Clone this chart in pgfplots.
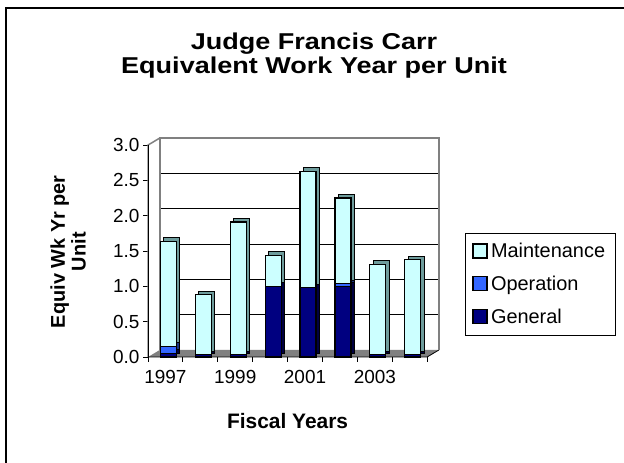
\documentclass[border=0pt]{standalone}
\usepackage{pgfplots}
\pgfplotsset{compat=1.18}
\usepackage{pgfplotstable}
\usepackage{fontspec}
\setmainfont{Liberation Sans}
\newfontfamily\titlefont[FakeStretch=1.18]{Liberation Sans}
\definecolor{maint}{HTML}{CCFFFF}
\definecolor{oper}{HTML}{3366FF}
\definecolor{gen}{HTML}{000080}
\definecolor{maintS}{HTML}{6E9C9C}
\definecolor{operS}{HTML}{1A3380}
\definecolor{genS}{HTML}{000040}

\pgfplotstableread{
x gen oper maint
0 0.05 0.10 1.49
1 0.03 0.00 0.85
2 0.03 0.00 1.88
3 1.00 0.00 0.44
4 0.98 0.00 1.65
5 1.00 0.04 1.21
6 0.03 0.00 1.28
7 0.03 0.00 1.35
}\data

\pgfplotsset{
 base/.style={scale only axis, width=291bp, height=219bp, xmin=-0.5, xmax=7.84,
   ymin=0, ymax=3.1, anchor=south west, clip=false},
 hidden/.style={axis lines=none, xtick=\empty, ytick=\empty},
 barsty/.style={ybar stacked, bar width=16bp, bar shift=3bp},
}

\begin{document}
\begin{tikzpicture}
\useasboundingbox (0,0) rectangle (624bp,463bp);
\draw[black, line width=1.5bp] (6bp,0) -- (6bp,455bp) -- (624bp,455bp);
\node[font=\titlefont\bfseries\fontsize{23}{24}\selectfont, align=center] at (314bp,407bp)
  {Judge Francis Carr\\Equivalent Work Year per Unit};

% Axis A: frame, floor, walls, ticks, labels
\begin{axis}[base, at={(148bp,106bp)},
  axis line style={draw=none},
  tick align=outside, major tick length=5bp,
  tick style={black, line width=0.8bp},
  xtick pos=lower, ytick pos=left,
  ytick={0,0.5,...,3},
  yticklabel style={font=\fontsize{19}{19}\selectfont,
    /pgf/number format/.cd, fixed, fixed zerofill, precision=1, assume math mode=true},
  xtick={-0.5,0.5,...,7.5}, xticklabels={,,,,,,,,,},
  extra x ticks={0,2,4,6}, extra x tick labels={1997,1999,2001,2003},
  extra x tick style={major tick length=0pt,
    xticklabel style={font=\fontsize{19}{19}\selectfont, yshift=-10bp}},
  ylabel={Equiv Wk Yr per\\Unit},
  ylabel style={align=center, font=\bfseries\fontsize{20}{21}\selectfont,
    at={(rel axis cs:-0.2745,0.481)}, anchor=center},
  xlabel={Fiscal Years},
  xlabel style={font=\bfseries\fontsize{21}{21}\selectfont,
    at={(rel axis cs:0.4796,0)}, anchor=base, yshift=-71bp},
]
\fill[gray] (axis cs:-0.5,0) -- (axis cs:7.5,0) -- (axis cs:7.84,0.1) -- (axis cs:-0.16,0.1) -- cycle;
\draw[black, line width=0.8bp] (axis cs:-0.5,0) -- (axis cs:7.5,0) -- (axis cs:7.84,0.1);
\draw[black, line width=0.8bp] (axis cs:-0.16,0.6) -- (axis cs:7.84,0.6);
\draw[black, line width=0.8bp] (axis cs:-0.16,1.1) -- (axis cs:7.84,1.1);
\draw[black, line width=0.8bp] (axis cs:-0.16,1.6) -- (axis cs:7.84,1.6);
\draw[black, line width=0.8bp] (axis cs:-0.16,2.1) -- (axis cs:7.84,2.1);
\draw[black, line width=0.8bp] (axis cs:-0.16,2.6) -- (axis cs:7.84,2.6);
\draw[gray, line width=1.5bp] (axis cs:-0.16,0.1) -- (axis cs:-0.16,3.1) -- (axis cs:7.84,3.1) -- (axis cs:7.84,0.1);
\draw[gray, line width=1.5bp] (axis cs:-0.5,0) -- (axis cs:-0.5,3) -- (axis cs:-0.16,3.1);
\draw[black, line width=0.8bp] (axis cs:-0.5,0) -- (axis cs:-0.5,3);
\end{axis}

% Axis B: depth (side and top faces)
\begin{axis}[base, hidden, at={(151.5bp,109.5bp)}, barsty]
\addplot[fill=genS, draw=black, line width=1bp] table[x=x, y=gen] {\data};
\addplot[fill=operS, draw=black, line width=1bp] table[x=x, y=oper] {\data};
\addplot[fill=maintS, draw=black, line width=1bp] table[x=x, y=maint] {\data};
\end{axis}

% Axis C: front faces and legend
\begin{axis}[base, hidden, at={(148bp,106bp)}, barsty,
  reverse legend, legend cell align=left,
  legend image code/.code={\draw[#1, draw=black, line width=1.2bp] (2bp,-6.5bp) rectangle (16bp,7.5bp);},
  legend style={at={(rel axis cs:1.089,0.566)}, anchor=north west,
    draw=black, line width=0.8bp, font=\fontsize{20}{20}\selectfont,
    inner xsep=7bp, inner ysep=8bp, row sep=13bp,
    nodes={inner xsep=3.5bp, inner ysep=2bp}},
]
\addplot[fill=gen, draw=black, line width=1.2bp] table[x=x, y=gen] {\data};
\addlegendentry{General}
\addplot[fill=oper, draw=black, line width=1.2bp] table[x=x, y=oper] {\data};
\addlegendentry{Operation}
\addplot[fill=maint, draw=black, line width=1.2bp] table[x=x, y=maint] {\data};
\addlegendentry{Maintenance}
\end{axis}
\end{tikzpicture}
\end{document}
